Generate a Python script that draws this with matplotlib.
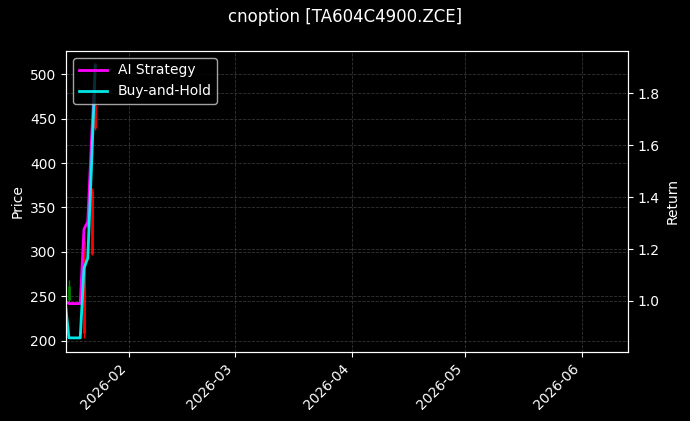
import pandas as pd
import matplotlib.pyplot as plt
import matplotlib.dates as mdates

# daily data
dates = pd.to_datetime(['2026-01-15', '2026-01-16', '2026-01-19', '2026-01-20',
                        '2026-01-21', '2026-01-22', '2026-01-23'])
open_ = [245, 246, 210, 312, 328, 369, 466]
high = [250, 268, 211, 318, 336, 372, 511]
low = [240, 241, 206, 203, 326, 296, 437]
close = [246, 262, 208, 208, 334, 298, 440]

ai_strategy = [1.0, 0.99, 0.99, 1.277, 1.305, 1.62, 1.91]
buy_hold = [1.0, 0.858, 0.858, 1.126, 1.165, 1.52, 1.905]

plt.style.use('dark_background')
fig, ax1 = plt.subplots(figsize=(6.9, 4.21), dpi=100)
fig.subplots_adjust(left=0.096, right=0.910, top=0.879, bottom=0.165)

# candles: wick + body
cols = ['green' if c >= o else 'red' for o, c in zip(open_, close)]
ax1.vlines(dates, low, high, colors=cols, linewidth=1)
ax1.vlines(dates, open_, close, colors=cols, linewidth=2)
ax1.set_ylabel('Price')
ax1.grid(True, linestyle='--', color='gray', alpha=0.4, linewidth=0.6)

ax2 = ax1.twinx()
ax2.plot(dates, ai_strategy, color='magenta', linewidth=2, label='AI Strategy')
ax2.plot(dates, buy_hold, color='cyan', linewidth=2, alpha=0.9, label='Buy-and-Hold')
ax2.set_ylabel('Return')
ax2.grid(True, linestyle='--', color='gray', alpha=0.4, linewidth=0.6)
ax2.legend(loc='upper left')

ax1.set_xlim(pd.Timestamp('2026-01-15 07:00'), pd.Timestamp('2026-06-13 07:00'))
ax1.xaxis.set_major_locator(mdates.MonthLocator())
ax1.xaxis.set_major_formatter(mdates.DateFormatter('%Y-%m'))
plt.setp(ax1.get_xticklabels(), rotation=45, ha='right')

fig.suptitle('cnoption [TA604C4900.ZCE]', fontsize=12)
plt.savefig('out.png', dpi=100)
